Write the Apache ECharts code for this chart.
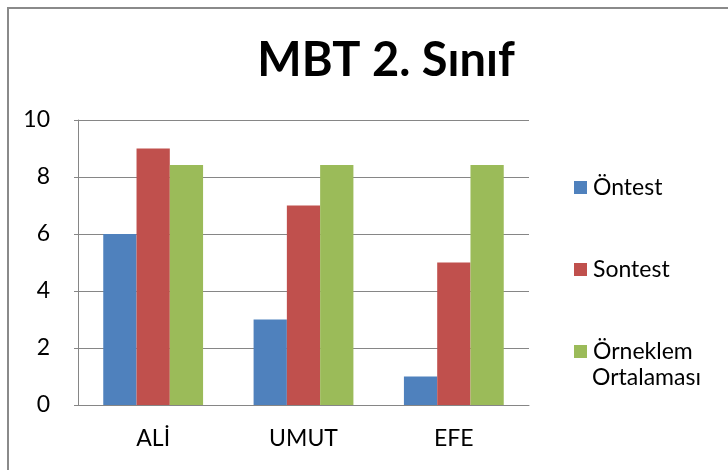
<!DOCTYPE html>
<html><head><meta charset="utf-8">
<script src="https://cdn.jsdelivr.net/npm/echarts@6/dist/echarts.min.js"></script>
<style>html,body{margin:0;padding:0;background:#fff}#c{width:728px;height:470px}</style>
</head><body><div id="c"></div>
<script>
const categories = ['ALİ', 'UMUT', 'EFE'];
const seriesNames = ['Öntest', 'Sontest', 'Örneklem Ortalaması'];
const ontest = [6, 3, 1];
const sontest = [9, 7, 5];
const orneklem = [8.42, 8.42, 8.42];
const yTicks = [0, 2, 4, 6, 8, 10];
const colors = ['#4F81BD', '#C0504D', '#9BBB59'];

const chart = echarts.init(document.getElementById('c'));
const FONT = 'Lato';
const FS = 23;
const values = [ontest, sontest, orneklem];
chart.setOption({
  animation: false,
  color: colors,
  title: {
    text: 'MBT 2. Sınıf', left: 381, top: 32, textAlign: 'center',
    textStyle: { fontFamily: FONT, fontWeight: 'bold', fontSize: 47, color: '#000' }
  },
  grid: { left: 78, right: 199, top: 120, bottom: 65 },
  legend: [0, 1, 2].map(i => ({
    data: [seriesNames[i]], left: 569, top: [171, 253, 335][i],
    itemWidth: 13, itemHeight: 13, itemGap: 0, icon: 'rect',
    formatter: n => n.split(' ')[0],
    textStyle: { fontFamily: FONT, fontSize: FS, color: '#000', padding: [0, 0, 0, 1] }
  })),
  xAxis: {
    type: 'category', data: categories,
    axisLine: { lineStyle: { color: '#868686', width: 1 } },
    axisTick: { show: false },
    axisLabel: { fontFamily: FONT, fontSize: FS, color: '#000', margin: 22 }
  },
  yAxis: {
    type: 'value', min: yTicks[0], max: yTicks[yTicks.length - 1], interval: 2,
    axisLine: { show: true, lineStyle: { color: '#868686', width: 1 } },
    axisTick: { show: true, length: 4, lineStyle: { color: '#868686' } },
    splitLine: { lineStyle: { color: '#868686', width: 1 } },
    axisLabel: { fontFamily: FONT, fontSize: FS, color: '#000', margin: 28 }
  },
  series: values.map((v, i) => ({
    name: seriesNames[i], type: 'bar', data: v,
    barGap: '0%', barCategoryGap: '33.6%'
  })),
  graphic: [
    { type: 'polyline', shape: { points: [[8, 480], [8, 8], [740, 8]] },
      style: { stroke: '#8a8a8a', lineWidth: 2, fill: null } },
    { type: 'text', left: 592, top: 366,
      style: { text: 'Ortalaması', font: FS + 'px Lato', fill: '#000' } }
  ]
});
</script></body></html>
